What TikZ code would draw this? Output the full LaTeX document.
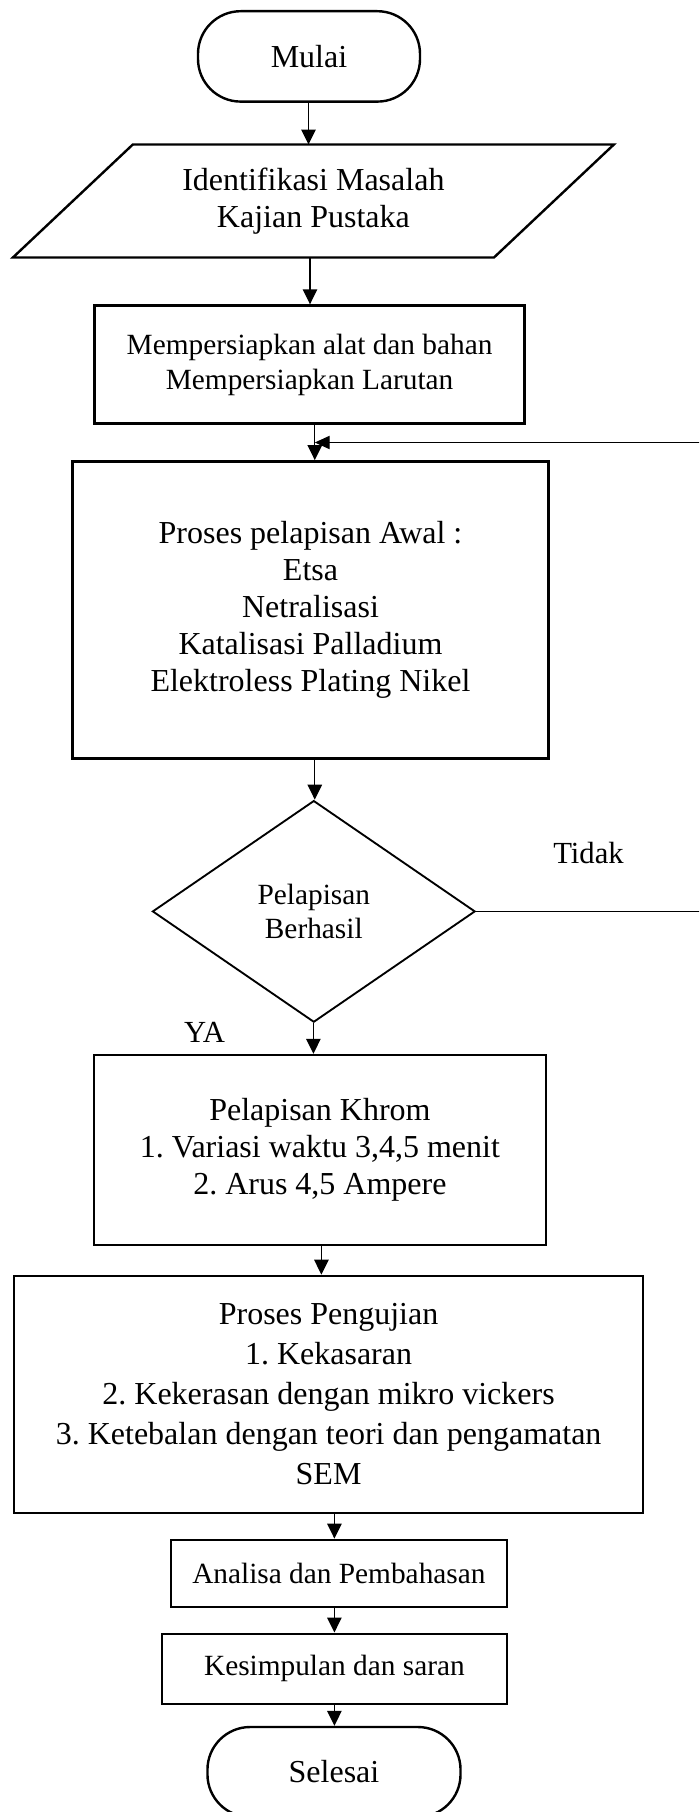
\documentclass[tikz,border=0pt]{standalone}
\usepackage{fontspec}
\setmainfont{Liberation Serif}
\frenchspacing
\usetikzlibrary{positioning,calc,shapes.geometric,arrows.meta}
\tikzset{
  term/.style={draw,line width=0.9pt,rounded corners=16pt,align=center,inner sep=0pt,
    font=\fontsize{12}{13.8}\selectfont},
  proc/.style={draw,line width=0.9pt,align=center,inner sep=0pt,
    font=\fontsize{12}{13.8}\selectfont},
  procsmall/.style={proc,font=\fontsize{11}{13.1}\selectfont},
  io/.style={align=center,inner sep=0pt,font=\fontsize{12}{13.9}\selectfont},
  dec/.style={diamond,draw,line width=0.7pt,aspect=1.456,inner sep=0pt,align=center,
    font=\fontsize{11}{12.5}\selectfont},
  arr/.style={line width=0.5pt,-{Triangle[length=5.6pt,width=5.4pt]}},
  thinarr/.style={line width=0.4pt,-{Triangle[length=5.6pt,width=5pt]}},
  lbl/.style={inner sep=0pt,font=\fontsize{11.5}{13}\selectfont},
}
\begin{document}
\begin{tikzpicture}[x=0.375pt,y=-0.375pt]
        \useasboundingbox (0,0) rectangle (699,1812);
        \fill[white] (0,0) rectangle (699,1812);
        \clip (0,0) rectangle (699,1812);
        % steps, px positions
        \node[term,minimum width=83.25pt,minimum height=33.9pt] (mulai) at (309,56.4) {Mulai};
        \node[io,minimum width=180pt,minimum height=42pt] (ident) at (313.4,201)
          {Identifikasi Masalah\\Kajian Pustaka};
        \draw[line width=0.9pt] ($(ident.north west)+(60,0)$) -- ($(ident.north east)+(60,0)$)
          -- ($(ident.south east)+(-60,0)$) -- ($(ident.south west)+(-60,0)$) -- cycle;
        \node[procsmall,minimum width=161.25pt,minimum height=44.25pt] (prep) at (309.6,364.5)
          {Mempersiapkan alat dan bahan\\Mempersiapkan Larutan};
        \node[proc,minimum width=178.4pt,minimum height=111.4pt] (awal) at (310.5,609.9)
          {Proses pelapisan Awal :\\Etsa\\Netralisasi\\Katalisasi Palladium\\Elektroless Plating Nikel};
        \node[dec,minimum width=121pt,minimum height=83.1pt] (cek) at (313.8,911.4)
          {Pelapisan\\Berhasil};
        \node[proc,minimum width=169.4pt,minimum height=71.25pt] (khrom) at (319.9,1150)
          {Pelapisan Khrom\\1. Variasi waktu 3,4,5 menit\\2. Arus 4,5 Ampere};
        \node[proc,font=\fontsize{12}{15}\selectfont,minimum width=235.8pt,minimum height=88.9pt]
          (uji) at (328.6,1394.4)
          {Proses Pengujian\\1. Kekasaran\\2. Kekerasan dengan mikro vickers\\3. Ketebalan dengan teori dan pengamatan\\SEM};
        \node[procsmall,minimum width=126pt,minimum height=25.2pt] (analisa) at (338.9,1573.4)
          {Analisa dan Pembahasan};
        \node[procsmall,minimum width=129.4pt,minimum height=26.25pt] (simpul) at (334.4,1668.7)
          {Kesimpulan dan saran};
        \node[term,minimum width=94.9pt,minimum height=33.75pt] (selesai) at (334,1772) {Selesai};
        % labels
        \node[lbl] (tidak) at (588.5,853) {Tidak};
        \node[lbl] (ya) at (204.6,1032) {YA};
        % flow
        \foreach \a/\b/\x in {mulai/ident/308.5,ident/prep/310,prep/awal/314.8,awal/cek/314.8,
            cek/khrom/313.4,khrom/uji/321.4,uji/analisa/334.4,analisa/simpul/334.4,simpul/selesai/334.4}
          \draw[arr] (\x,0 |- \a.south) -- (\x,0 |- \b.north);
        % back to coating
        \coordinate (join) at (314.8,442.5);
        \coordinate (loopc) at (715,442.5);
        \draw[thinarr] (cek.east) -- (cek.east -| loopc) -- (loopc) -- (join);
      \end{tikzpicture}
\end{document}
